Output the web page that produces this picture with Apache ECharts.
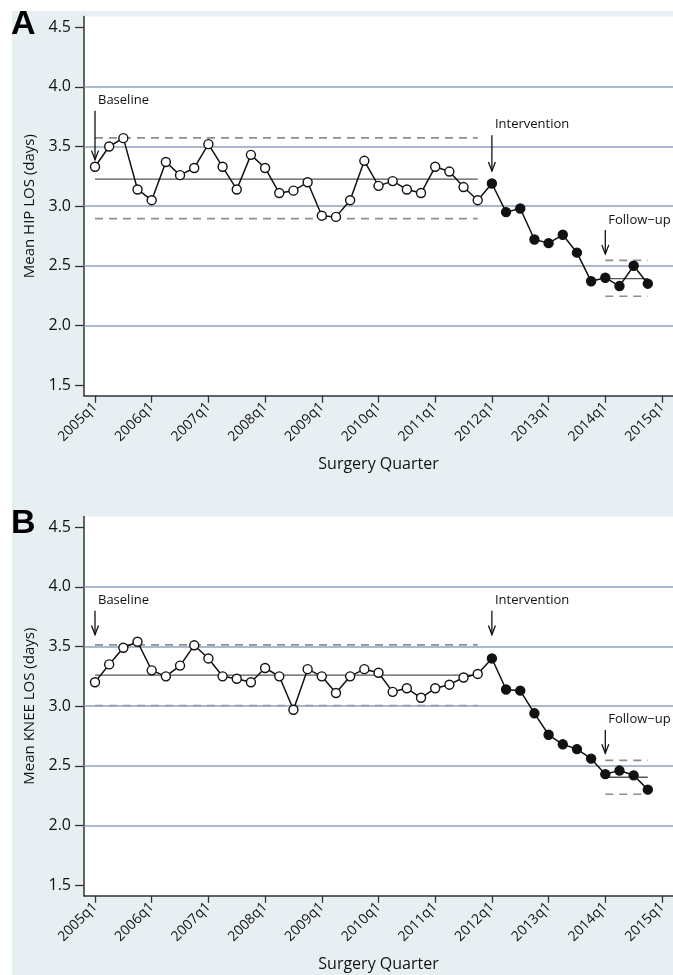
<!DOCTYPE html>
<html>
<head>
<meta charset="utf-8">
<script src="https://cdn.jsdelivr.net/npm/echarts@6/dist/echarts.min.js"></script>
<style>
  html, body { margin: 0; padding: 0; background: #fff; }
  #chart { width: 673px; height: 975px; }
</style>
</head>
<body>
<div id="chart"></div>
<script>
// quarter index 0 = 2005q1
const tickLabels = ["2005q1", "2006q1", "2007q1", "2008q1", "2009q1", "2010q1",
  "2011q1", "2012q1", "2013q1", "2014q1", "2015q1"];
const tickQuarters = tickLabels.map((t, i) => i * 4);
const yTickValues = [1.5, 2.0, 2.5, 3.0, 3.5, 4.0, 4.5];
const gridValues = [2.0, 2.5, 3.0, 3.5, 4.0];

const hipLos = [3.33, 3.50, 3.57, 3.14, 3.05, 3.37, 3.26, 3.32, 3.52, 3.33,
  3.14, 3.43, 3.32, 3.11, 3.13, 3.20, 2.92, 2.91, 3.05, 3.38,
  3.17, 3.21, 3.14, 3.11, 3.33, 3.29, 3.16, 3.05, 3.19, 2.95,
  2.98, 2.72, 2.69, 2.76, 2.61, 2.37, 2.40, 2.33, 2.50, 2.35];
const kneeLos = [3.20, 3.35, 3.49, 3.54, 3.30, 3.25, 3.34, 3.51, 3.40, 3.25,
  3.23, 3.20, 3.32, 3.25, 2.97, 3.31, 3.25, 3.11, 3.25, 3.31,
  3.28, 3.12, 3.15, 3.07, 3.15, 3.18, 3.24, 3.27, 3.40, 3.14,
  3.13, 2.94, 2.76, 2.68, 2.64, 2.56, 2.43, 2.46, 2.42, 2.30];

const firstPostQuarter = 28; // 2012q1, solid markers from here
const baselineSpan = [0, 27];
const followupSpan = [36, 39];
// [mean, upper, lower]
const hipBaseline = [3.227, 3.572, 2.895];
const hipFollowup = [2.392, 2.545, 2.244];
const kneeBaseline = [3.26, 3.514, 3.005];
const kneeFollowup = [2.404, 2.545, 2.262];

// annotation arrows: quarter, arrow start, arrow tip, label height
const hipNotes = [
  { text: "Baseline", q: 0, from: 3.80, to: 3.39, at: 3.89 },
  { text: "Intervention", q: 28, from: 3.595, to: 3.295, at: 3.685 },
  { text: "Follow\u2212up", q: 36, from: 2.80, to: 2.60, at: 2.885 }
];
const kneeNotes = [
  { text: "Baseline", q: 0, from: 3.80, to: 3.60, at: 3.89 },
  { text: "Intervention", q: 28, from: 3.80, to: 3.60, at: 3.89 },
  { text: "Follow\u2212up", q: 36, from: 2.80, to: 2.605, at: 2.89 }
];

const fontFam = "Open Sans";
const textCol = "#111";
const gridTops = [16.5, 516.5];

function makeGrid(i) {
  return {
    left: 84, right: 0, top: gridTops[i], height: 379.3,
    show: true, backgroundColor: "#ffffff", borderWidth: 0
  };
}

function makeXAxis(i) {
  return {
    type: "value", gridIndex: i, min: -0.776, max: 40.776,
    name: "Surgery Quarter", nameLocation: "middle", nameGap: 61,
    nameTextStyle: { fontFamily: fontFam, fontSize: 16, color: textCol },
    axisLine: { show: true, onZero: false, lineStyle: { color: "#333", width: 1.5 } },
    axisTick: { show: true, length: 7, customValues: tickQuarters, lineStyle: { color: "#333", width: 1.3 } },
    axisLabel: {
      customValues: tickQuarters, rotate: 45, margin: 9,
      fontFamily: fontFam, fontSize: 14, color: textCol,
      formatter: (v) => tickLabels[Math.round(v / 4)]
    },
    splitLine: { show: false }
  };
}

function makeYAxis(i, title) {
  return {
    type: "value", gridIndex: i, min: 1.41, max: 4.59,
    name: title, nameLocation: "middle", nameGap: 47, nameRotate: 90,
    nameTextStyle: { fontFamily: fontFam, fontSize: 15, color: textCol },
    axisLine: { show: true, onZero: false, lineStyle: { color: "#333", width: 1.5 } },
    axisTick: { show: true, length: 9, customValues: yTickValues, lineStyle: { color: "#333", width: 1.3 } },
    axisLabel: {
      customValues: yTickValues, margin: 13,
      fontFamily: fontFam, fontSize: 16, color: textCol,
      formatter: (v) => v.toFixed(1)
    },
    splitLine: { show: false }
  };
}

function controlLines(i, span, limits) {
  const base = { type: "line", xAxisIndex: i, yAxisIndex: i, symbol: "none", silent: true, z: 3 };
  return [
    Object.assign({}, base, {
      data: [[span[0], limits[0]], [span[1], limits[0]]],
      lineStyle: { color: "#555", width: 1.3 }
    }),
    Object.assign({}, base, {
      data: [[span[0], limits[1]], [span[1], limits[1]]],
      lineStyle: { color: "#8e8e8e", width: 1.6, type: [8, 6] }
    }),
    Object.assign({}, base, {
      data: [[span[0], limits[2]], [span[1], limits[2]]],
      lineStyle: { color: "#8e8e8e", width: 1.6, type: [8, 6] }
    })
  ];
}

function notesSeries(i, notes) {
  return {
    type: "custom", xAxisIndex: i, yAxisIndex: i, silent: true, z: 6, clip: false,
    data: notes.map((n) => [n.q, n.from]),
    renderItem: function (params, api) {
      const n = notes[params.dataIndex];
      const a = api.coord([n.q, n.from]);
      const b = api.coord([n.q, n.to]);
      const t = api.coord([n.q, n.at]);
      return {
        type: "group",
        children: [
          { type: "line", shape: { x1: a[0], y1: a[1], x2: b[0], y2: b[1] },
            style: { stroke: "#111", lineWidth: 1.3 } },
          { type: "polyline", shape: { points: [[b[0] - 3.5, b[1] - 9], [b[0], b[1]], [b[0] + 3.5, b[1] - 9]] },
            style: { stroke: "#111", lineWidth: 1.3, fill: null } },
          { type: "text", x: t[0] + 3, y: t[1],
            style: { text: n.text, fontFamily: fontFam, fontSize: 13, fill: textCol,
              textAlign: "left", textVerticalAlign: "middle" } }
        ]
      };
    }
  };
}

function makeSeries(i, values, baseline, followup, notes) {
  const pts = values.map((v, q) => ({
    value: [q, v],
    itemStyle: q < firstPostQuarter
      ? { color: "#ffffff", borderColor: "#111", borderWidth: 1.4 }
      : { color: "#111", borderColor: "#111", borderWidth: 1.4 }
  }));
  return [
    {
      type: "line", xAxisIndex: i, yAxisIndex: i, data: [], silent: true, z: 1,
      markLine: {
        silent: true, symbol: "none", label: { show: false },
        lineStyle: { color: "#8ea3be", width: 1.6, type: "solid" },
        data: gridValues.map((g) => ({ yAxis: g }))
      }
    },
    ...controlLines(i, baselineSpan, baseline),
    ...controlLines(i, followupSpan, followup),
    {
      type: "line", xAxisIndex: i, yAxisIndex: i, data: pts, z: 5,
      symbol: "circle", symbolSize: 9, showAllSymbol: true,
      lineStyle: { color: "#111", width: 1.5 }
    },
    notesSeries(i, notes)
  ];
}

const chart = echarts.init(document.getElementById("chart"), null, { renderer: "canvas" });
chart.setOption({
  animation: false,
  backgroundColor: "#ffffff",
  graphic: [
    { type: "rect", left: 12, top: 11, shape: { width: 661, height: 964 },
      style: { fill: "#e8eff2" }, z: -10 },
    { type: "text", left: 11, top: 8, z: 10,
      style: { text: "A", fontFamily: "Liberation Sans", fontWeight: "bold", fontSize: 34, fill: "#000" } },
    { type: "text", left: 11, top: 507, z: 10,
      style: { text: "B", fontFamily: "Liberation Sans", fontWeight: "bold", fontSize: 34, fill: "#000" } }
  ],
  grid: [makeGrid(0), makeGrid(1)],
  xAxis: [makeXAxis(0), makeXAxis(1)],
  yAxis: [makeYAxis(0, "Mean HIP LOS (days)"), makeYAxis(1, "Mean KNEE LOS (days)")],
  series: [
    ...makeSeries(0, hipLos, hipBaseline, hipFollowup, hipNotes),
    ...makeSeries(1, kneeLos, kneeBaseline, kneeFollowup, kneeNotes)
  ]
});
</script>
</body>
</html>
